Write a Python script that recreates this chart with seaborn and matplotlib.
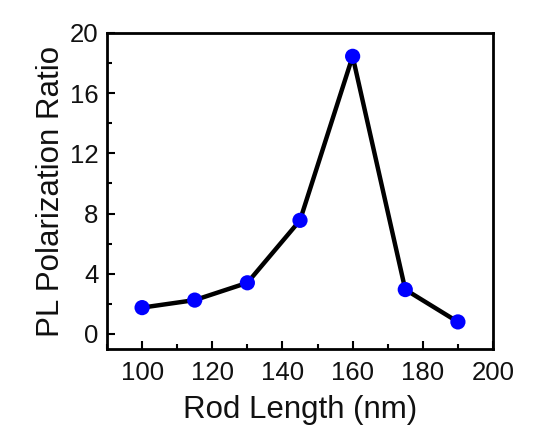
import matplotlib
matplotlib.use("Agg")
import matplotlib.pyplot as plt
import seaborn as sns
import pandas as pd
from matplotlib.ticker import MultipleLocator

# Rod length (nm) and measured photoluminescence polarization ratio
rod_length = [100, 115, 130, 145, 160, 175, 190]
pl_ratio = [1.75, 2.25, 3.4, 7.55, 18.45, 2.95, 0.8]

x_ticks = [100, 120, 140, 160, 180, 200]
y_ticks = [0, 4, 8, 12, 16, 20]

sns.set_theme(style="white")
plt.rcParams["font.family"] = ["Liberation Sans", "DejaVu Sans"]

df = pd.DataFrame({"Rod Length (nm)": rod_length, "PL Polarization Ratio": pl_ratio})

fig = plt.figure(figsize=(5.59, 4.32), dpi=100)
ax = fig.add_axes([107 / 559, 1 - 349 / 432, (493 - 107) / 559, (349 - 33) / 432])

sns.lineplot(data=df, x="Rod Length (nm)", y="PL Polarization Ratio", ax=ax,
             color="black", linewidth=3.2, zorder=2)
sns.scatterplot(data=df, x="Rod Length (nm)", y="PL Polarization Ratio", ax=ax,
                color="#0000ff", s=120, edgecolor="none", zorder=3)

ax.set_xlim(90, 200)
ax.set_ylim(-1, 20)
ax.set_xticks(x_ticks)
ax.set_yticks(y_ticks)
ax.xaxis.set_minor_locator(MultipleLocator(10))
ax.yaxis.set_minor_locator(MultipleLocator(2))
ax.tick_params(axis="both", which="both", direction="in", bottom=True, left=True,
               top=False, right=False, labelsize=18.5, color="black",
               labelcolor="#111111")
ax.tick_params(which="major", length=6, width=1.5)
ax.tick_params(which="minor", length=3.5, width=1.5)
ax.tick_params(axis="x", pad=9)
ax.tick_params(axis="y", pad=6)
for sp in ax.spines.values():
    sp.set_color("black")
    sp.set_linewidth(2)

ax.set_xlabel("Rod Length (nm)", fontsize=22.5, labelpad=7, color="#111111")
ax.set_ylabel("PL Polarization Ratio", fontsize=22.5, labelpad=3, color="#111111")

fig.savefig("out.png", dpi=100)
